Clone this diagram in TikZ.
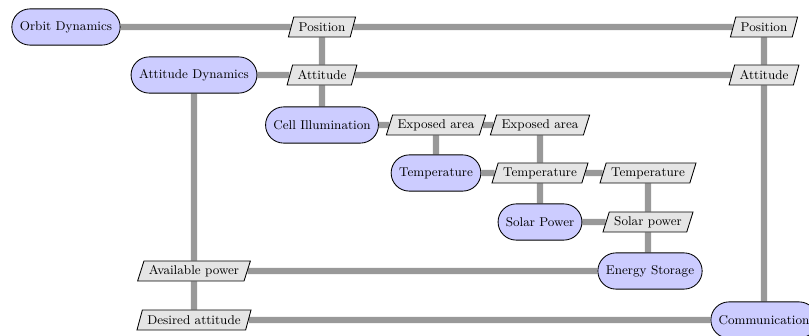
\documentclass[tikz,border=0pt]{standalone}
\usetikzlibrary{shapes.geometric,shapes.misc,backgrounds}
\begin{document}
\begin{tikzpicture}[x=0.7042pt,y=-0.7042pt,font=\fontsize{9}{11}\selectfont,
  module/.style={rounded rectangle,draw=black,fill=blue!20,minimum height=25.5pt,inner xsep=5pt,semithick},
  param/.style={trapezium,trapezium stretches=true,trapezium left angle=70,trapezium right angle=110,draw=black,fill=black!10,minimum height=14pt,inner xsep=3.5pt,inner ysep=2pt,semithick},
  flow/.style={draw=black!40,line width=4.5pt}]
\useasboundingbox (0,0) rectangle (809,336);
\node[module] (orbit) at (66,27) {Orbit Dynamics};
\node[param] (pos1) at (322,27) {Position};
\node[param] (pos2) at (764,27) {Position};
\node[module] (attdyn) at (194,75) {Attitude Dynamics};
\node[param] (att1) at (322,75) {Attitude};
\node[param] (att2) at (764,75) {Attitude};
\node[module] (cell) at (322,125) {Cell Illumination};
\node[param] (exp1) at (436,125) {Exposed area};
\node[param] (exp2) at (540,125) {Exposed area};
\node[module] (temp) at (436,173) {Temperature};
\node[param] (temp1) at (540,173) {Temperature};
\node[param] (temp2) at (648,173) {Temperature};
\node[module] (solar) at (540,222) {Solar Power};
\node[param] (solp) at (648,222) {Solar power};
\node[module] (energy) at (650,271) {Energy Storage};
\node[param] (avail) at (194,271) {Available power};
\node[param] (desatt) at (194,320) {Desired attitude};
\node[module] (comm) at (764,320) {Communication};
\begin{scope}[on background layer]
\draw[flow] (orbit) -- (pos1) -- (pos2);
\draw[flow] (pos1) -- (att1) -- (cell);
\draw[flow] (attdyn) -- (att1) -- (att2);
\draw[flow] (pos2) -- (att2) -- (comm);
\draw[flow] (attdyn) -- (avail) -- (desatt);
\draw[flow] (cell) -- (exp1) -- (exp2);
\draw[flow] (exp1) -- (temp);
\draw[flow] (exp2) -- (temp1);
\draw[flow] (temp) -- (temp1) -- (temp2);
\draw[flow] (temp1) -- (solar);
\draw[flow] (temp2) -- (solp) -- (solp |- energy.north);
\draw[flow] (solar) -- (solp);
\draw[flow] (avail) -- (energy);
\draw[flow] (desatt) -- (comm);
\end{scope}
\end{tikzpicture}
\end{document}
